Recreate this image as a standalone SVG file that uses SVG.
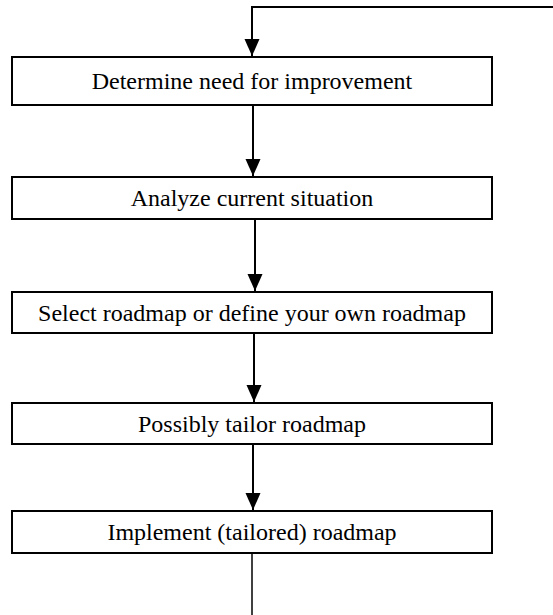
<svg xmlns="http://www.w3.org/2000/svg" width="553" height="615" viewBox="0 0 553 615">
<style>
.box{fill:#fff;stroke:#000;stroke-width:2}
.lbl{font-family:'Liberation Serif','Times New Roman',serif;font-size:24px;fill:#000;text-anchor:middle}
.con{fill:none;stroke:#000;stroke-width:2}
.thin{fill:none;stroke:#000;stroke-width:1.5}
</style>
<defs>
<marker id="ah" markerUnits="userSpaceOnUse" markerWidth="17" markerHeight="16" viewBox="0 0 17 16" refX="17" refY="7.5" orient="auto">
<path d="M0,0 L17,7.5 L0,15 z" fill="#000"/>
</marker>
</defs>
<rect width="553" height="615" fill="#fff"/>
<g id="connectors">
<path class="con" d="M553,7 H252 V56" marker-end="url(#ah)"/>
<path class="con" d="M253,105 V176" marker-end="url(#ah)"/>
<path class="con" d="M255,220 V291" marker-end="url(#ah)"/>
<path class="con" d="M254,333 V402" marker-end="url(#ah)"/>
<path class="con" d="M253,444 V510" marker-end="url(#ah)"/>
<path class="thin" d="M252,553 V615"/>
</g>
<g id="n1"><rect class="box" x="12" y="57" width="480" height="48"/><text class="lbl" x="252" y="88.5">Determine need for improvement</text></g>
<g id="n2"><rect class="box" x="12" y="177" width="480" height="42"/><text class="lbl" x="252" y="206">Analyze current situation</text></g>
<g id="n3"><rect class="box" x="12" y="292" width="480" height="41"/><text class="lbl" x="252" y="320.5">Select roadmap or define your own roadmap</text></g>
<g id="n4"><rect class="box" x="12" y="403" width="480" height="41"/><text class="lbl" x="252" y="431.5">Possibly tailor roadmap</text></g>
<g id="n5"><rect class="box" x="12" y="511" width="480" height="42"/><text class="lbl" x="252" y="540">Implement (tailored) roadmap</text></g>
</svg>
